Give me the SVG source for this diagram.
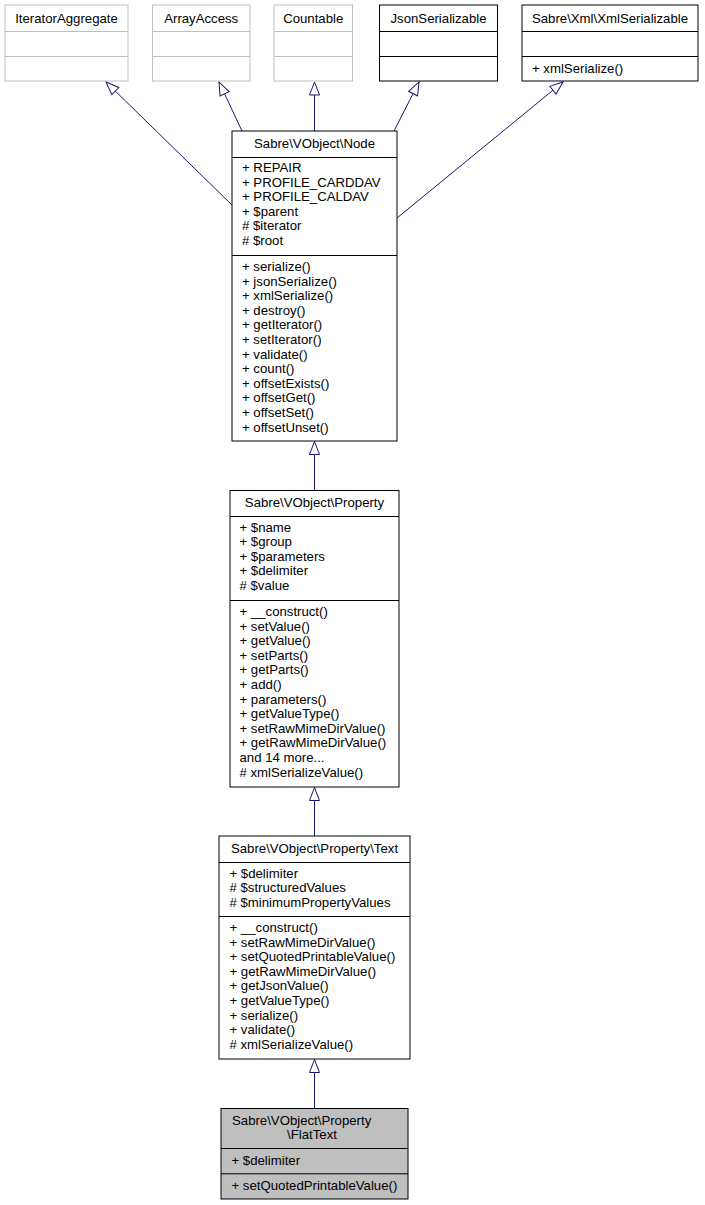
<svg xmlns="http://www.w3.org/2000/svg" width="705" height="1205" viewBox="0 0 705 1205">
<defs>
<style>
text{font-family:"Liberation Sans",Arial,sans-serif;font-size:13.2px;fill:#000}
.c{text-anchor:middle}
.box{fill:#fff;stroke:#000;stroke-width:1}
.ext{fill:#fff;stroke:#bfbfbf;stroke-width:1}
.cur{fill:#bfbfbf;stroke:#000;stroke-width:1}
.sep{stroke:#000;stroke-width:1}
.sepg{stroke:#bfbfbf;stroke-width:1}
.edge{fill:none;stroke:#191970;stroke-width:1}
</style>
<marker id="tri" markerUnits="userSpaceOnUse" markerWidth="16" markerHeight="12" refX="13" refY="5" orient="auto" overflow="visible">
<polygon points="0,0 13,5 0,10" fill="#fff" stroke="#191970" stroke-width="1"/>
</marker>
</defs>
<rect width="705" height="1205" fill="#fff"/>

<g id="connectors">
<path class="edge" d="M232,205 L106,82" marker-end="url(#tri)"/>
<path class="edge" d="M242,131 L219,82" marker-end="url(#tri)"/>
<path class="edge" d="M314.5,131 L314.5,82" marker-end="url(#tri)"/>
<path class="edge" d="M394,131 L419,82" marker-end="url(#tri)"/>
<path class="edge" d="M397,218 L563,82" marker-end="url(#tri)"/>
<path class="edge" d="M314.5,490.5 L314.5,441.5" marker-end="url(#tri)"/>
<path class="edge" d="M314.5,836 L314.5,787.5" marker-end="url(#tri)"/>
<path class="edge" d="M314.5,1108.5 L314.5,1059.5" marker-end="url(#tri)"/>
</g>

<g id="IteratorAggregate">
<rect class="ext" x="5" y="5" width="123" height="76"/>
<line class="sepg" x1="5" y1="31.5" x2="128" y2="31.5"/>
<line class="sepg" x1="5" y1="56.5" x2="128" y2="56.5"/>
<text class="c" x="66.5" y="22.5">IteratorAggregate</text>
</g>

<g id="ArrayAccess">
<rect class="ext" x="152.5" y="5" width="97.5" height="76"/>
<line class="sepg" x1="152.5" y1="31.5" x2="250" y2="31.5"/>
<line class="sepg" x1="152.5" y1="56.5" x2="250" y2="56.5"/>
<text class="c" x="201.2" y="22.5">ArrayAccess</text>
</g>

<g id="Countable">
<rect class="ext" x="274" y="5" width="78.5" height="76"/>
<line class="sepg" x1="274" y1="31.5" x2="352.5" y2="31.5"/>
<line class="sepg" x1="274" y1="56.5" x2="352.5" y2="56.5"/>
<text class="c" x="313.2" y="22.5">Countable</text>
</g>

<g id="JsonSerializable">
<rect class="box" x="379.5" y="5" width="118" height="76"/>
<line class="sep" x1="379.5" y1="31.5" x2="497.5" y2="31.5"/>
<line class="sep" x1="379.5" y1="56.5" x2="497.5" y2="56.5"/>
<text class="c" x="438.5" y="22.5">JsonSerializable</text>
</g>

<g id="XmlSerializable">
<rect class="box" x="522" y="5" width="176" height="76"/>
<line class="sep" x1="522" y1="31.5" x2="698" y2="31.5"/>
<line class="sep" x1="522" y1="56.5" x2="698" y2="56.5"/>
<text class="c" x="610" y="22.5">Sabre\Xml\XmlSerializable</text>
<text x="532" y="72.5">+ xmlSerialize()</text>
</g>

<g id="Node">
<rect class="box" x="232" y="131" width="165" height="310"/>
<line class="sep" x1="232" y1="157.5" x2="397" y2="157.5"/>
<line class="sep" x1="232" y1="255.5" x2="397" y2="255.5"/>
<text class="c" x="314.5" y="147.5">Sabre\VObject\Node</text>
<text x="242" y="172">+ REPAIR</text>
<text x="242" y="186.6">+ PROFILE_CARDDAV</text>
<text x="242" y="201.2">+ PROFILE_CALDAV</text>
<text x="242" y="215.8">+ $parent</text>
<text x="242" y="230.4"># $iterator</text>
<text x="242" y="245"># $root</text>
<text x="242" y="271">+ serialize()</text>
<text x="242" y="285.6">+ jsonSerialize()</text>
<text x="242" y="300.2">+ xmlSerialize()</text>
<text x="242" y="314.8">+ destroy()</text>
<text x="242" y="329.4">+ getIterator()</text>
<text x="242" y="344">+ setIterator()</text>
<text x="242" y="358.6">+ validate()</text>
<text x="242" y="373.2">+ count()</text>
<text x="242" y="387.8">+ offsetExists()</text>
<text x="242" y="402.4">+ offsetGet()</text>
<text x="242" y="417">+ offsetSet()</text>
<text x="242" y="431.6">+ offsetUnset()</text>
</g>

<g id="Property">
<rect class="box" x="230" y="490.5" width="169" height="296.5"/>
<line class="sep" x1="230" y1="516.5" x2="399" y2="516.5"/>
<line class="sep" x1="230" y1="600.5" x2="399" y2="600.5"/>
<text class="c" x="314.5" y="507">Sabre\VObject\Property</text>
<text x="239.5" y="531.5">+ $name</text>
<text x="239.5" y="546.1">+ $group</text>
<text x="239.5" y="560.7">+ $parameters</text>
<text x="239.5" y="575.3">+ $delimiter</text>
<text x="239.5" y="589.9"># $value</text>
<text x="239.5" y="616">+ __construct()</text>
<text x="239.5" y="630.6">+ setValue()</text>
<text x="239.5" y="645.2">+ getValue()</text>
<text x="239.5" y="659.8">+ setParts()</text>
<text x="239.5" y="674.4">+ getParts()</text>
<text x="239.5" y="689">+ add()</text>
<text x="239.5" y="703.6">+ parameters()</text>
<text x="239.5" y="718.2">+ getValueType()</text>
<text x="239.5" y="732.8">+ setRawMimeDirValue()</text>
<text x="239.5" y="747.4">+ getRawMimeDirValue()</text>
<text x="239.5" y="762">and 14 more...</text>
<text x="239.5" y="776.6"># xmlSerializeValue()</text>
</g>

<g id="Text">
<rect class="box" x="219" y="836" width="191" height="223"/>
<line class="sep" x1="219" y1="862.5" x2="410" y2="862.5"/>
<line class="sep" x1="219" y1="916.5" x2="410" y2="916.5"/>
<text class="c" x="314.5" y="852.5">Sabre\VObject\Property\Text</text>
<text x="229.5" y="877.5">+ $delimiter</text>
<text x="229.5" y="892.1"># $structuredValues</text>
<text x="229.5" y="906.7"># $minimumPropertyValues</text>
<text x="229.5" y="932">+ __construct()</text>
<text x="229.5" y="946.6">+ setRawMimeDirValue()</text>
<text x="229.5" y="961.2">+ setQuotedPrintableValue()</text>
<text x="229.5" y="975.8">+ getRawMimeDirValue()</text>
<text x="229.5" y="990.4">+ getJsonValue()</text>
<text x="229.5" y="1005">+ getValueType()</text>
<text x="229.5" y="1019.6">+ serialize()</text>
<text x="229.5" y="1034.2">+ validate()</text>
<text x="229.5" y="1048.8"># xmlSerializeValue()</text>
</g>

<g id="FlatText">
<rect class="cur" x="221" y="1108.5" width="187" height="90.5"/>
<line class="sep" x1="221" y1="1148.5" x2="408" y2="1148.5"/>
<line class="sep" x1="221" y1="1173.8" x2="408" y2="1173.8"/>
<text x="232" y="1124.5">Sabre\VObject\Property</text>
<text class="c" x="312" y="1139">\FlatText</text>
<text x="231.5" y="1164.5">+ $delimiter</text>
<text x="231.5" y="1190">+ setQuotedPrintableValue()</text>
</g>
</svg>
